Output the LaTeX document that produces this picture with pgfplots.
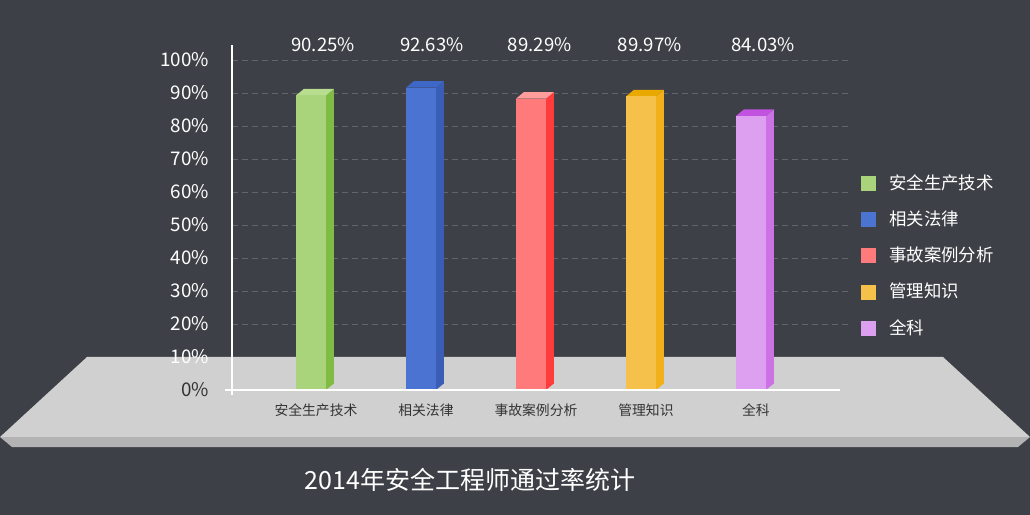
\documentclass[border=0pt]{standalone}
\usepackage{pgfplots}
\pgfplotsset{compat=1.18}
\usepackage{graphicx}
\usepackage{fontspec}
\setmainfont{Noto Sans CJK SC}
\definecolor{bg}{HTML}{3D4046}
\definecolor{gridc}{HTML}{62656B}
\definecolor{plattop}{HTML}{D0D0D0}
\definecolor{platface}{HTML}{B3B3B3}
\definecolor{darktxt}{HTML}{333333}
\definecolor{gF}{HTML}{A9D47C}\definecolor{gS}{HTML}{80BB44}\definecolor{gT}{HTML}{B8DD8E}
\definecolor{bF}{HTML}{4B74D2}\definecolor{bS}{HTML}{3A5EB5}\definecolor{bT}{HTML}{3F67C8}
\definecolor{rF}{HTML}{FF7A7A}\definecolor{rS}{HTML}{FF3B3B}\definecolor{rT}{HTML}{FF9C9C}
\definecolor{oF}{HTML}{F5C14B}\definecolor{oS}{HTML}{F2B01A}\definecolor{oT}{HTML}{E9A900}
\definecolor{pF}{HTML}{DDA0F0}\definecolor{pS}{HTML}{CC72E4}\definecolor{pT}{HTML}{C252E0}
\pgfplotsset{
  frontbar/.style={ybar, bar width=15pt, bar shift=0pt, draw=none, fill=#1,
    legend image code/.code={\fill[#1] (0pt,-3.75pt) rectangle (7.5pt,3.75pt);}},
  face/.style={fill=#1, draw=none, forget plot, mark=none},
}
\begin{document}
\begin{tikzpicture}
% background (1px = 0.5pt), axis origin at px (232,390)
\fill[bg] (-116pt,-62.5pt) rectangle (399pt,195pt);
% platform
\fill[plattop] (-72.5pt,16.5pt) -- (355.5pt,16.5pt) -- (399pt,-23.5pt) -- (-116pt,-23.5pt) -- cycle;
\fill[platface] (-116pt,-23.5pt) -- (399pt,-23.5pt) -- (393pt,-28.5pt) -- (-110pt,-28.5pt) -- cycle;
\begin{axis}[
  at={(0,0)}, anchor=south west,
  scale only axis, width=308pt, height=165pt,
  xmin=-0.718, xmax=4.882, ymin=0, ymax=100,
  clip=false,
  axis line style={draw=none},
  major tick length=0pt,
  ytick={20,30,...,100},
  yticklabels={20\%,30\%,40\%,50\%,60\%,70\%,80\%,90\%,100\%},
  extra y ticks={0,10},
  extra y tick labels={\textcolor{darktxt}{0\%},10\%},
  extra y tick style={grid=none},
  yticklabel style={font=\fontsize{9.4}{10}\selectfont, text=white, anchor=east, xshift=-8pt},
  xtick={0,1,2,3,4},
  xticklabels={安全生产技术,相关法律,事故案例分析,管理知识,全科},
  xticklabel style={font=\fontsize{6.9}{7}\selectfont, text=darktxt, anchor=north, yshift=-3.5pt, xshift=2.5pt},
  ymajorgrids,
  major grid style={gridc, dash pattern=on 3pt off 2pt, line width=0.5pt},
  legend style={at={(1.021,0.667)}, anchor=north west, draw=none, fill=none,
    text=white, font=\fontsize{8.7}{9}\selectfont, row sep=5.3pt,
    cells={anchor=west}, inner sep=0pt,
    /tikz/every odd column/.append style={column sep=4.5pt}},
  legend cell align=left,
]
% bar 0: 90.25
\addplot[face=gS] coordinates {(0.136,0) (0.136,89.25) (0.209,91.25) (0.209,2)} -- cycle;
\addplot[face=gT] coordinates {(-0.136,89.25) (0.136,89.25) (0.209,91.25) (-0.064,91.25)} -- cycle;
\addplot[frontbar=gF] coordinates {(0,89.25)};
\addlegendentry{安全生产技术}
% bar 1: 92.63
\addplot[face=bS] coordinates {(1.136,0) (1.136,91.63) (1.209,93.63) (1.209,2)} -- cycle;
\addplot[face=bT] coordinates {(0.864,91.63) (1.136,91.63) (1.209,93.63) (0.936,93.63)} -- cycle;
\addplot[frontbar=bF] coordinates {(1,91.63)};
\addlegendentry{相关法律}
% bar 2: 89.29
\addplot[face=rS] coordinates {(2.136,0) (2.136,88.29) (2.209,90.29) (2.209,2)} -- cycle;
\addplot[face=rT] coordinates {(1.864,88.29) (2.136,88.29) (2.209,90.29) (1.936,90.29)} -- cycle;
\addplot[frontbar=rF] coordinates {(2,88.29)};
\addlegendentry{事故案例分析}
% bar 3: 89.97
\addplot[face=oS] coordinates {(3.136,0) (3.136,88.97) (3.209,90.97) (3.209,2)} -- cycle;
\addplot[face=oT] coordinates {(2.864,88.97) (3.136,88.97) (3.209,90.97) (2.936,90.97)} -- cycle;
\addplot[frontbar=oF] coordinates {(3,88.97)};
\addlegendentry{管理知识}
% bar 4: 84.03
\addplot[face=pS] coordinates {(4.136,0) (4.136,83.03) (4.209,85.03) (4.209,2)} -- cycle;
\addplot[face=pT] coordinates {(3.864,83.03) (4.136,83.03) (4.209,85.03) (3.936,85.03)} -- cycle;
\addplot[frontbar=pF] coordinates {(4,83.03)};
\addlegendentry{全科}
% axis lines
\draw[white, line width=1pt] (axis cs:-0.718,104.5) -- (axis cs:-0.718,-1.5);
\draw[white, line width=1pt] (axis cs:-0.782,0) -- (axis cs:4.81,0);
% value labels
\begin{scope}[every node/.style={text=white, font=\fontsize{9.3}{10}\selectfont}]
\node at (axis cs:0.11,104.5) {90.25\%};
\node at (axis cs:1.10,104.5) {92.63\%};
\node at (axis cs:2.08,104.5) {89.29\%};
\node at (axis cs:3.08,104.5) {89.97\%};
\node at (axis cs:4.11,104.5) {84.03\%};
\end{scope}
% title
\node[text=white, font=\fontsize{12.5}{13}\selectfont] at (axis cs:1.445,-27.3) {2014年安全工程师通过率统计};
\end{axis}
\end{tikzpicture}
\end{document}
